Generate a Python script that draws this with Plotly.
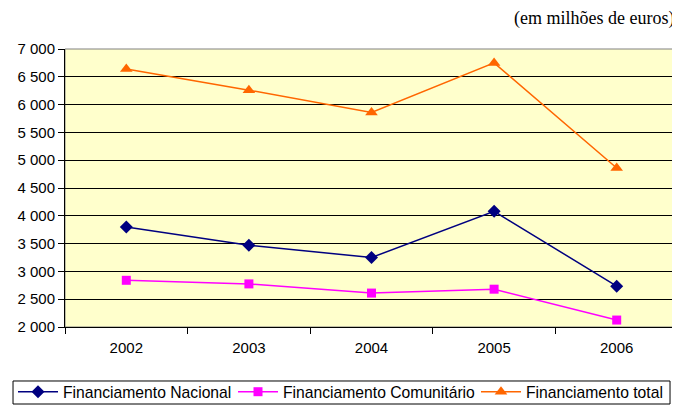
import plotly.graph_objects as go

years = ["2002", "2003", "2004", "2005", "2006"]
nacional = [3800, 3470, 3250, 4080, 2735]
comunitario = [2840, 2775, 2610, 2680, 2125]
total = [6640, 6260, 5860, 6750, 4860]
y_ticks = [2000, 2500, 3000, 3500, 4000, 4500, 5000, 5500, 6000, 6500, 7000]

# The page body adds an 8px margin, so the figure is 672x400 and offsets are compensated.
W, H = 672, 400
L, R, T, B = 57, 2, 41, 81

fig = go.Figure()
fig.add_trace(go.Scatter(x=years, y=nacional, name="Financiamento Nacional", mode="lines+markers",
                         line=dict(color="#000080", width=1.5),
                         marker=dict(symbol="diamond", size=10, color="#000080"),
                         legend="legend"))
fig.add_trace(go.Scatter(x=years, y=comunitario, name="Financiamento Comunitário", mode="lines+markers",
                         line=dict(color="#FF00FF", width=1.5),
                         marker=dict(symbol="square", size=9, color="#FF00FF"),
                         legend="legend2"))
fig.add_trace(go.Scatter(x=years, y=total, name="Financiamento total", mode="lines+markers",
                         line=dict(color="#FF6600", width=1.5),
                         marker=dict(symbol="triangle-up", size=11, color="#FF6600"),
                         legend="legend3"))


def leg(xpix):
    return dict(orientation="h", xref="container", yref="container", x=xpix / W, xanchor="left",
                y=1 - 384 / H, yanchor="middle", itemwidth=40,
                bgcolor="rgba(0,0,0,0)", font=dict(size=15.7))


fig.update_layout(
    width=W, height=H,
    margin=dict(l=L, r=R, t=T, b=B, pad=0),
    paper_bgcolor="white",
    plot_bgcolor="#FFFFCC",
    font=dict(family="Liberation Sans, Arial", size=15, color="black"),
    separators=", ",
    showlegend=True,
    legend=leg(5),
    legend2=leg(225),
    legend3=leg(468),
    xaxis=dict(type="category", range=[-0.5, 4.5], showgrid=False, tickson="boundaries",
               ticks="outside", ticklen=6, tickcolor="black", showline=True, linecolor="black",
               linewidth=1, mirror=False, tickfont=dict(size=15), ticklabelstandoff=7,
               automargin=False),
    yaxis=dict(range=[2000, 7000], tickvals=y_ticks, tickformat=",d", showgrid=True,
               gridcolor="black", gridwidth=1, ticks="outside", ticklen=6, tickcolor="black",
               showline=True, linecolor="black", linewidth=1, zeroline=False,
               tickfont=dict(size=15), automargin=False),
    shapes=[
        dict(type="rect", xref="paper", yref="paper", x0=0, x1=1, y0=0, y1=1,
             line=dict(color="#808080", width=1), layer="below"),
        dict(type="rect", xref="paper", yref="paper", x0=-0.0848, x1=0.987, y0=-0.277, y1=-0.1942,
             line=dict(color="black", width=1)),
    ],
    annotations=[
        dict(text="(em milhões de euros)", xref="paper", yref="paper", x=0.9967, y=1.0,
             xanchor="right", yanchor="middle", yshift=31, showarrow=False,
             font=dict(family="Liberation Serif, Times New Roman", size=18, color="black")),
    ],
)

fig.write_html("out.html")
